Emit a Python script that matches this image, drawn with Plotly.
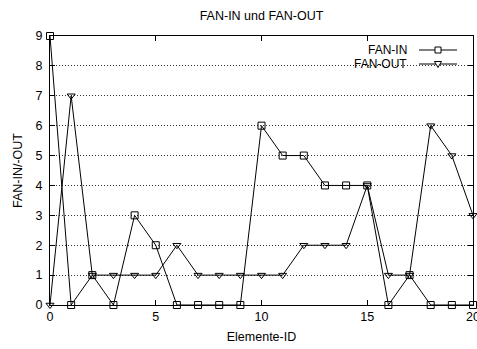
import plotly.graph_objects as go

# ---- data ----
element_ids = list(range(0, 21))
fan_in = [9, 0, 1, 0, 3, 2, 0, 0, 0, 0, 6, 5, 5, 4, 4, 4, 0, 1, 0, 0, 0]
fan_out = [0, 7, 1, 1, 1, 1, 2, 1, 1, 1, 1, 1, 2, 2, 2, 4, 1, 1, 6, 5, 3]
series_names = ["FAN-IN", "FAN-OUT"]
x_ticks = [0, 5, 10, 15, 20]
y_ticks = list(range(0, 10))

# ---- geometry (pixels) ----
W, H = 477, 349
L, R, T, B = 50, 473, 36, 305
PW, PH = R - L, B - T
FONT = "Liberation Sans, Arial, Helvetica, sans-serif"


def px(xp):
    return (xp - L) / PW


def py(yp):
    return (B - yp) / PH


fig = go.Figure()
fig.add_trace(go.Scatter(
    x=element_ids, y=fan_in, mode="lines+markers", name=series_names[0],
    line=dict(color="black", width=1),
    marker=dict(symbol="square-open", size=7, color="black", line=dict(width=1)),
    cliponaxis=False, showlegend=False))
fig.add_trace(go.Scatter(
    x=element_ids, y=fan_out, mode="lines+markers", name=series_names[1],
    line=dict(color="black", width=1),
    marker=dict(symbol="triangle-down-open", size=7, color="black", line=dict(width=1)),
    cliponaxis=False, showlegend=False))

# ---- custom gnuplot-style legend (text left of the sample line with symbol) ----
rows_y = [50.0, 64.0]
shapes = [dict(type="rect", xref="paper", yref="paper",
               x0=px(353), x1=px(465), y0=py(71), y1=py(43),
               fillcolor="white", line=dict(width=0), layer="between")]
annotations = []
mx = 438
for i, (name, yy) in enumerate(zip(series_names, rows_y)):
    annotations.append(dict(text=name, xref="paper", yref="paper", x=px(409), y=py(yy),
                            xanchor="right", yanchor="middle", showarrow=False,
                            font=dict(family=FONT, size=12, color="black")))
    shapes.append(dict(type="line", xref="paper", yref="paper",
                       x0=px(419), x1=px(457), y0=py(yy), y1=py(yy),
                       line=dict(color="black", width=1)))
    if i == 0:
        shapes.append(dict(type="rect", xref="paper", yref="paper",
                           x0=px(mx - 3), x1=px(mx + 3), y0=py(yy + 3), y1=py(yy - 3),
                           fillcolor="white", line=dict(color="black", width=1)))
    else:
        path = "M {:.5f},{:.5f} L {:.5f},{:.5f} L {:.5f},{:.5f} Z".format(
            px(mx - 3.5), py(yy - 2.5), px(mx + 3.5), py(yy - 2.5), px(mx), py(yy + 3.5))
        shapes.append(dict(type="path", xref="paper", yref="paper", path=path,
                           fillcolor="white", line=dict(color="black", width=1)))

axis_common = dict(showline=True, linecolor="black", linewidth=1, mirror="ticks",
                   ticks="inside", ticklen=5, tickcolor="black", zeroline=False,
                   ticklabeloverflow="allow", automargin=False,
                   tickfont=dict(family=FONT, size=12.5, color="black"))

fig.update_layout(
    width=W, height=H,
    margin=dict(l=L, r=W - R, t=T, b=H - B, autoexpand=False),
    paper_bgcolor="white", plot_bgcolor="white",
    font=dict(family=FONT, color="black"),
    title=dict(text="FAN-IN und FAN-OUT", x=((L + R) / 2) / W,
               xanchor="center", y=1 - 16 / H, yanchor="middle",
               font=dict(family=FONT, size=12.5, color="black")),
    xaxis=dict(range=[0, 20], tickvals=x_ticks, showgrid=False,
               title=dict(text="Elemente-ID", font=dict(family=FONT, size=12.5), standoff=9),
               **axis_common),
    yaxis=dict(range=[0, 9], tickvals=y_ticks, showgrid=True, gridcolor="#333333",
               griddash="1px,2px", gridwidth=1, ticklabelstandoff=4,
               title=dict(text="FAN-IN/-OUT", font=dict(family=FONT, size=12.5), standoff=10),
               **axis_common),
    shapes=shapes, annotations=annotations,
)

fig.write_html("out.html")
